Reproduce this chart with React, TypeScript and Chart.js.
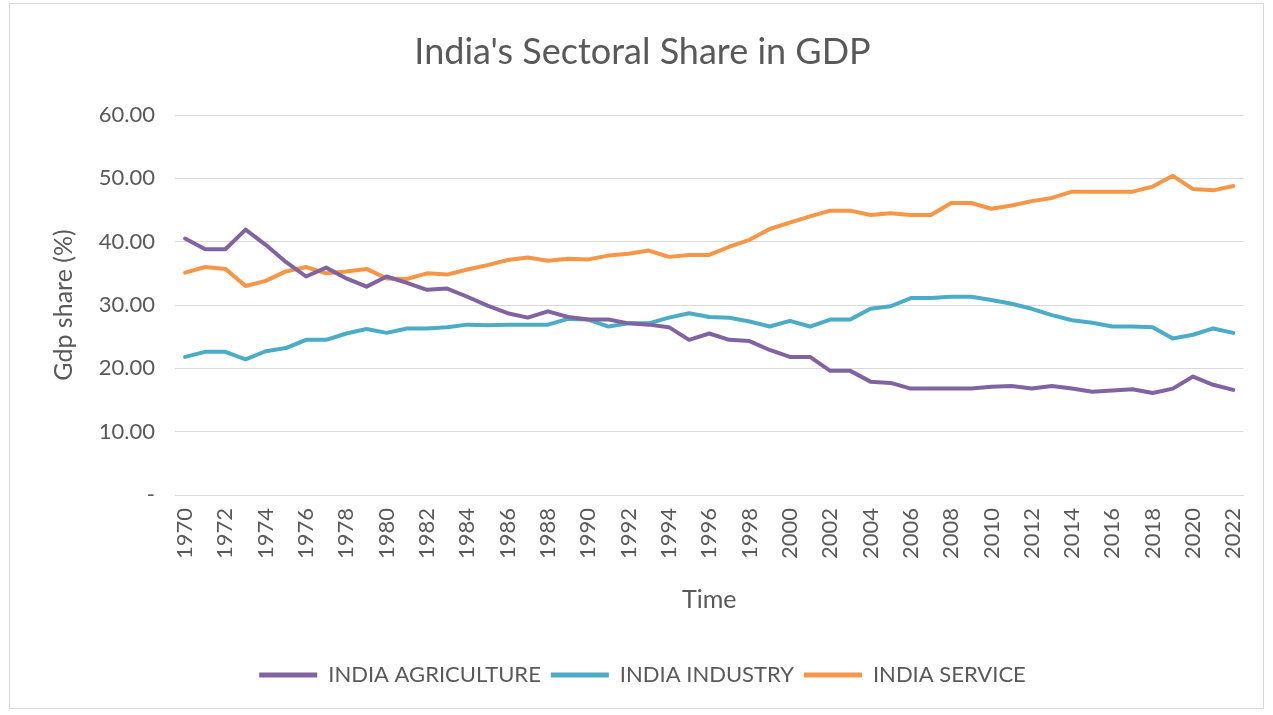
import React, { useEffect, useRef } from "react";
import { Chart, registerables } from "chart.js";

Chart.register(...registerables);

const years: string[] = [
  "1970","1971","1972","1973","1974","1975","1976","1977","1978","1979",
  "1980","1981","1982","1983","1984","1985","1986","1987","1988","1989",
  "1990","1991","1992","1993","1994","1995","1996","1997","1998","1999",
  "2000","2001","2002","2003","2004","2005","2006","2007","2008","2009",
  "2010","2011","2012","2013","2014","2015","2016","2017","2018","2019",
  "2020","2021","2022",
];

const agriculture: number[] = [
  40.5, 38.8, 38.8, 41.9, 39.5, 36.8, 34.5, 35.9, 34.2, 32.9,
  34.5, 33.5, 32.4, 32.6, 31.3, 29.9, 28.7, 28.0, 29.0, 28.1,
  27.7, 27.7, 27.1, 26.9, 26.5, 24.5, 25.5, 24.5, 24.3, 22.9,
  21.8, 21.8, 19.6, 19.6, 17.9, 17.7, 16.8, 16.8, 16.8, 16.8,
  17.1, 17.2, 16.8, 17.2, 16.8, 16.3, 16.5, 16.7, 16.1, 16.8,
  18.7, 17.4, 16.6,
];

const industry: number[] = [
  21.8, 22.6, 22.6, 21.4, 22.7, 23.2, 24.5, 24.5, 25.5, 26.2,
  25.6, 26.3, 26.3, 26.5, 26.9, 26.8, 26.9, 26.9, 26.9, 27.8,
  27.7, 26.6, 27.1, 27.1, 28.0, 28.7, 28.1, 28.0, 27.4, 26.6,
  27.5, 26.6, 27.7, 27.7, 29.4, 29.8, 31.1, 31.1, 31.3, 31.3,
  30.8, 30.2, 29.4, 28.4, 27.6, 27.2, 26.6, 26.6, 26.5, 24.7,
  25.3, 26.3, 25.6,
];

const service: number[] = [
  35.1, 36.0, 35.7, 33.0, 33.8, 35.3, 36.0, 35.0, 35.3, 35.7,
  34.2, 34.1, 35.0, 34.8, 35.6, 36.3, 37.1, 37.5, 37.0, 37.3,
  37.2, 37.8, 38.1, 38.6, 37.6, 37.9, 37.9, 39.2, 40.3, 42.0,
  43.0, 44.0, 44.9, 44.9, 44.2, 44.5, 44.2, 44.2, 46.1, 46.1,
  45.2, 45.7, 46.4, 46.9, 47.9, 47.9, 47.9, 47.9, 48.7, 50.4,
  48.3, 48.1, 48.8,
];

const seriesNames: string[] = ["INDIA AGRICULTURE", "INDIA INDUSTRY", "INDIA SERVICE"];
const seriesColors: string[] = ["#8064A2", "#4BACC6", "#F79646"];
const yTicks: number[] = [0, 10, 20, 30, 40, 50, 60];

const FONT = "Lato, 'Open Sans', sans-serif";
const TEXT = "#595959";

export default function App() {
  const ref = useRef<HTMLCanvasElement | null>(null);

  useEffect(() => {
    if (!ref.current) return;
    const values = [agriculture, industry, service];
    const chart = new Chart(ref.current, {
      type: "line",
      data: {
        labels: years,
        datasets: seriesNames.map((name, i) => ({
          label: name,
          data: values[i],
          borderColor: seriesColors[i],
          backgroundColor: seriesColors[i],
          borderWidth: 4,
          pointRadius: 0,
          pointHoverRadius: 0,
          tension: 0,
          borderJoinStyle: "round" as const,
          borderCapStyle: "round" as const,
        })),
      },
      options: {
        animation: false,
        responsive: false,
        maintainAspectRatio: false,
        layout: { padding: { top: 30.4, left: 40, right: 28, bottom: 19 } },
        plugins: {
          title: {
            display: true,
            text: "India's Sectoral Share in GDP",
            color: TEXT,
            font: { family: FONT, size: 36, weight: "normal" },
            padding: { top: 0, bottom: 41.4 },
          },
          legend: {
            position: "bottom",
            labels: {
              color: TEXT,
              font: { family: FONT, size: 22 },
              boxWidth: 58,
              boxHeight: 5,
              padding: 10,
              generateLabels: (c: any) =>
                Chart.defaults.plugins.legend.labels.generateLabels(c).map((l: any) => ({
                  ...l,
                  lineWidth: 0,
                  fillStyle: l.strokeStyle,
                })),
            },
          },
          tooltip: { enabled: false },
        },
        scales: {
          x: {
            type: "category",
            offset: true,
            grid: { display: false, drawTicks: false },
            border: { display: true, color: "#d9d9d9", width: 1 },
            ticks: {
              autoSkip: false,
              maxRotation: 90,
              minRotation: 90,
              padding: 13,
              color: TEXT,
              font: { family: FONT, size: 22 },
              callback: (_v: any, idx: number) => (idx % 2 === 0 ? years[idx] : ""),
            },
            title: {
              display: true,
              text: "Time",
              color: TEXT,
              font: { family: FONT, size: 25 },
              padding: { top: 0, bottom: 39 },
            },
            afterFit: (s: any) => {
              s.height = 159;
            },
          },
          y: {
            min: yTicks[0],
            max: yTicks[yTicks.length - 1],
            afterBuildTicks: (s: any) => {
              s.ticks = yTicks.map((v) => ({ value: v }));
            },
            grid: { color: "#d9d9d9", lineWidth: 1, drawTicks: false },
            border: { display: false },
            ticks: {
              padding: 20,
              color: TEXT,
              font: { family: FONT, size: 22 },
              callback: (v: any) => (Number(v) === 0 ? "-" : Number(v).toFixed(2)),
            },
            title: {
              display: true,
              text: "Gdp share (%)",
              color: TEXT,
              font: { family: FONT, size: 25 },
              padding: { top: 9, bottom: 0 },
            },
            afterFit: (s: any) => {
              s.width = 135;
            },
          },
        },
      },
    });
    return () => chart.destroy();
  }, []);

  return (
    <div style={{ position: "absolute", left: 0, top: 0, width: 1273, height: 715, background: "#fff" }}>
      <div
        style={{
          position: "absolute",
          left: 9,
          top: 3,
          width: 1255,
          height: 706,
          border: "1px solid #d9d9d9",
          boxSizing: "border-box",
        }}
      />
      <canvas ref={ref} width={1273} height={715} style={{ position: "absolute", left: 0, top: 0 }} />
    </div>
  );
}
